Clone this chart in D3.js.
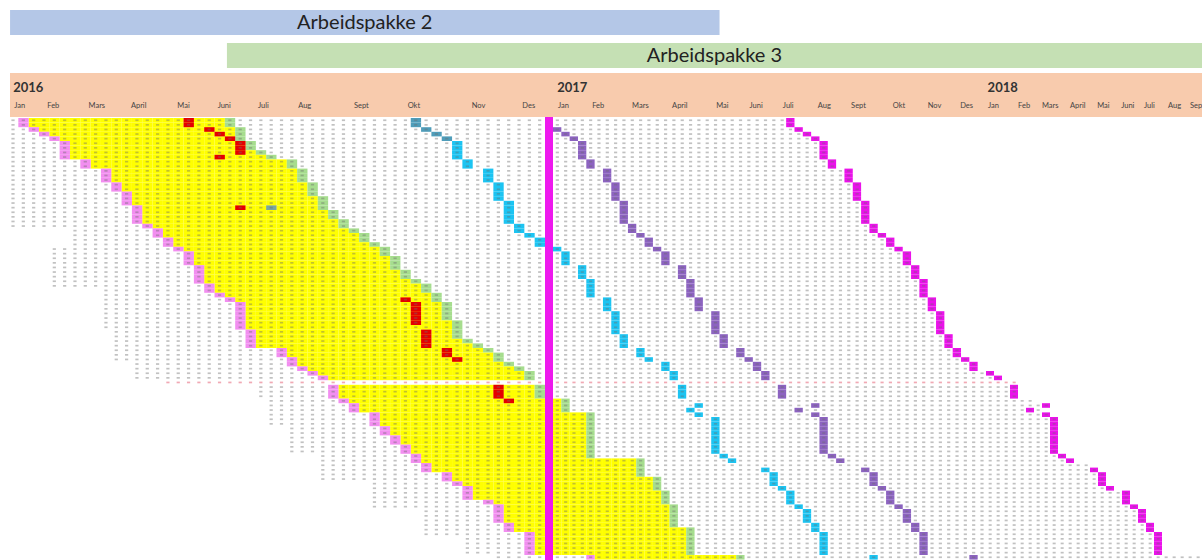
<!DOCTYPE html>
<html><head><meta charset="utf-8">
<script src="https://cdn.jsdelivr.net/npm/d3@7"></script>
<style>body{margin:0;background:#fff}svg{display:block}</style>
</head><body><svg id="c" width="1202" height="560"></svg>
<script>
// ---------- data ----------
const phaseNames = ["Arbeidspakke 2", "Arbeidspakke 3"];
const phaseStart = [0.2, 21.2];
const phaseEnd = [73, 140];

const years = ["2016", "2017", "2018"];
const yearWeeks = [0.5, 53.5, 105.2];

const months = ["Jan","Feb","Mars","April","Mai","Juni","Juli","Aug","Sept","Okt","Nov","Des",
                "Jan","Feb","Mars","April","Mai","Juni","Juli","Aug","Sept","Okt","Nov","Des",
                "Jan","Feb","Mars","April","Mai","Juni","Juli","Aug","Sep"];
const monthWeeks = [0.6,3.8,7.8,11.9,16.4,20.3,24.2,28.1,33.5,38.7,44.9,49.8,
                    53.6,57.7,62.5,67.3,72.6,76.6,80.6,84.8,88.8,93.8,98,101.9,
                    105.25,109,112,115.5,118.9,121.9,124.75,127.75,130.5];

// one entry per row (cohort); values are week columns, null = none
const firstWeek = [1,1,2,3,4,5,5,5,5,7,7,9,9,9,10,10,11,11,11,12,12,12,12,13,14,14,15,15,16,17,17,17,
  18,18,18,18,19,19,20,21,22,22,22,22,22,22,23,23,23,23,26,26,27,27,28,29,30,null,31,31,31,32,33,33,35,35,35,
  36,36,37,37,38,38,39,39,40,40,42,42,43,44,44,44,46,47,47,47,47,48,48,50,50,50,50,50,57];
const lastWeek = [21,21,22,22,22,23,23,24,25,27,27,28,28,28,29,29,29,30,30,30,31,31,32,32,33,34,34,35,36,36,37,37,
  37,38,38,39,40,40,41,41,42,42,42,42,43,43,43,43,44,45,46,47,47,48,49,50,50,null,51,51,51,54,54,54,57,57,57,
  57,57,57,57,57,57,57,63,63,63,63,65,65,65,66,66,66,67,67,67,67,67,69,69,69,69,69,69,75];
const followUp1 = [39,39,40,41,42,43,43,43,43,44,44,46,46,46,47,47,47,47,48,48,48,48,48,49,49,50,51,51,53,54,54,54,
  56,56,56,57,57,57,57,59,59,59,60,60,60,60,60,61,61,61,63,63,64,66,66,67,67,null,68,68,68,null,70,69,70,72,72,
  72,72,72,72,72,72,73,74,null,78,79,79,79,80,81,81,81,82,83,83,83,84,84,85,85,85,85,85,91];
const followUp2 = [52,52,53,54,55,56,56,56,56,57,57,59,59,59,60,60,60,60,61,61,61,61,61,62,62,63,64,64,65,66,66,66,
  68,68,68,69,69,69,69,70,70,70,72,72,72,72,72,73,73,73,75,75,76,77,77,78,78,null,80,80,80,null,84,82,84,85,85,
  85,85,85,85,85,85,86,87,null,90,91,91,91,92,93,93,93,94,95,95,95,96,96,97,97,97,97,97,103];
const followUp3 = [81,81,82,83,84,85,85,85,85,86,86,88,88,88,89,89,89,89,90,90,90,90,90,91,91,92,93,93,94,95,95,95,
  96,96,96,97,97,97,97,98,98,98,99,99,99,99,99,100,100,100,101,101,102,103,103,105,106,null,108,108,108,null,112,110,112,113,113,
  113,113,113,113,113,113,114,115,null,118,119,119,119,120,122,122,122,123,124,124,124,125,125,126,126,126,126,126,null];
const dotFrom = [0,0,0,0,0,0,0,0,0,0,0,0,0,0,0,0,0,0,0,0,0,0,0,0,6,6,6,6,4,4,4,4,
  4,4,4,4,4,9,9,9,9,9,9,9,9,9,10,10,10,10,10,10,10,12,12,12,12,15,24,24,24,25,25,25,25,25,25,
  27,27,27,27,27,27,30,30,30,30,30,30,35,35,35,35,35,35,40,40,40,40,40,40,44,44,44,44,47];
const dotTo = [81,81,82,83,84,85,85,85,85,86,86,88,88,88,89,89,89,89,90,90,90,90,90,91,91,92,93,93,94,95,95,95,
  96,96,96,97,97,97,97,98,98,98,99,99,99,99,99,100,100,100,101,101,102,103,103,105,106,108,108,108,108,110,112,111,112,113,113,
  113,113,113,113,113,113,114,115,117,118,119,119,119,120,122,122,122,123,124,124,124,125,125,126,126,126,126,126,131];

const redCells = [[0,17],[1,17],[2,19],[3,20],[4,21],[5,22],[6,22],[7,22],[8,20],[19,22],
  [39,38],[40,39],[41,39],[42,39],[43,39],[44,39],[46,40],[47,40],[48,40],[49,40],[50,42],[51,42],[52,43],
  [58,47],[59,47],[60,47],[61,48]];
const greyCells = [[19,25]];
const holidayWeek = 52;
const markedRow = 57;

// ---------- drawing ----------
const svg = d3.select("#c");
const x = d3.scaleLinear().domain([0, 52, 53, 105, 140]).range([8, 545, 553, 986, 1266]);
const nRows = firstWeek.length;
const y = d3.scaleBand().domain(d3.range(nRows)).range([118, 118 + nRows * 4.6]);
const font = "Lato, 'Open Sans', sans-serif";

// phase bars
const phaseColors = ["#b4c7e7", "#c5e0b4"];
const phaseY = [10, 43];
phaseNames.forEach((n, i) => {
  const x0 = x(phaseStart[i]), x1 = Math.min(1202, x(phaseEnd[i]));
  svg.append("rect").attr("x", x0).attr("y", phaseY[i]).attr("width", x1 - x0).attr("height", 25)
    .attr("fill", phaseColors[i]);
  svg.append("text").attr("x", (x0 + x1) / 2).attr("y", phaseY[i] + 19).attr("text-anchor", "middle")
    .attr("font-family", font).attr("font-size", 20).attr("fill", "#222").text(n);
});

// header band
svg.append("rect").attr("x", x(0) + 2).attr("y", 73).attr("width", 1202 - x(0) - 2).attr("height", 44)
  .attr("fill", "#f8cbad");
svg.selectAll(".yr").data(years).join("text")
  .attr("x", (d, i) => x(yearWeeks[i])).attr("y", 92)
  .attr("font-family", font).attr("font-size", 13).attr("font-weight", 700).attr("fill", "#333").text(d => d);
svg.selectAll(".mo").data(months).join("text")
  .attr("x", (d, i) => x(monthWeeks[i])).attr("y", 108)
  .attr("font-family", font).attr("font-size", 7.5).attr("fill", "#444").text(d => d);

// cells
const cells = [];
function add(r, c, color) { if (c != null) cells.push({r, c, color}); }
for (let r = 0; r < nRows; r++) {
  const f = firstWeek[r], l = lastWeek[r];
  if (f != null) {
    for (let c = f + 1; c < l; c++) add(r, c, "#ffff00");
    add(r, f, "#f28ef0");
    add(r, l, "#a6dd8e");
  }
  add(r, followUp1[r], followUp1[r] < 43 ? "#4f9dba" : "#1cc4f2");
  add(r, followUp2[r], "#8c63c0");
  add(r, followUp3[r], "#ea12ea");
}
redCells.forEach(([r, c]) => add(r, c, "#e50000"));
greyCells.forEach(([r, c]) => add(r, c, "#7aa6a0"));

svg.append("g").selectAll("rect").data(cells).join("rect")
  .attr("x", d => x(d.c)).attr("y", d => y(d.r))
  .attr("width", d => x(d.c + 1) - x(d.c)).attr("height", y.bandwidth())
  .attr("fill", d => d.color);

// cell text marks (unreadable small numbers)
const dots = [];
for (let r = 0; r < nRows; r++) {
  for (let c = dotFrom[r]; c <= dotTo[r]; c++) if (c !== holidayWeek) dots.push({r, c});
}
svg.append("g").selectAll("rect").data(dots).join("rect")
  .attr("x", d => { const w = x(d.c + 1) - x(d.c); return x(d.c) + w * 0.33; })
  .attr("y", d => y(d.r) + 1.4)
  .attr("width", d => Math.min(3.2, (x(d.c + 1) - x(d.c)) * 0.38)).attr("height", 1.7)
  .attr("fill", d => d.r === markedRow ? "#f0a0ac" : "#6b6b6b")
  .attr("opacity", d => d.r === markedRow ? 0.9 : 0.42);

// holiday column
svg.append("rect").attr("x", x(holidayWeek)).attr("y", 117)
  .attr("width", x(holidayWeek + 1) - x(holidayWeek)).attr("height", 560 - 117)
  .attr("fill", "#ee18ee");
</script></body></html>
